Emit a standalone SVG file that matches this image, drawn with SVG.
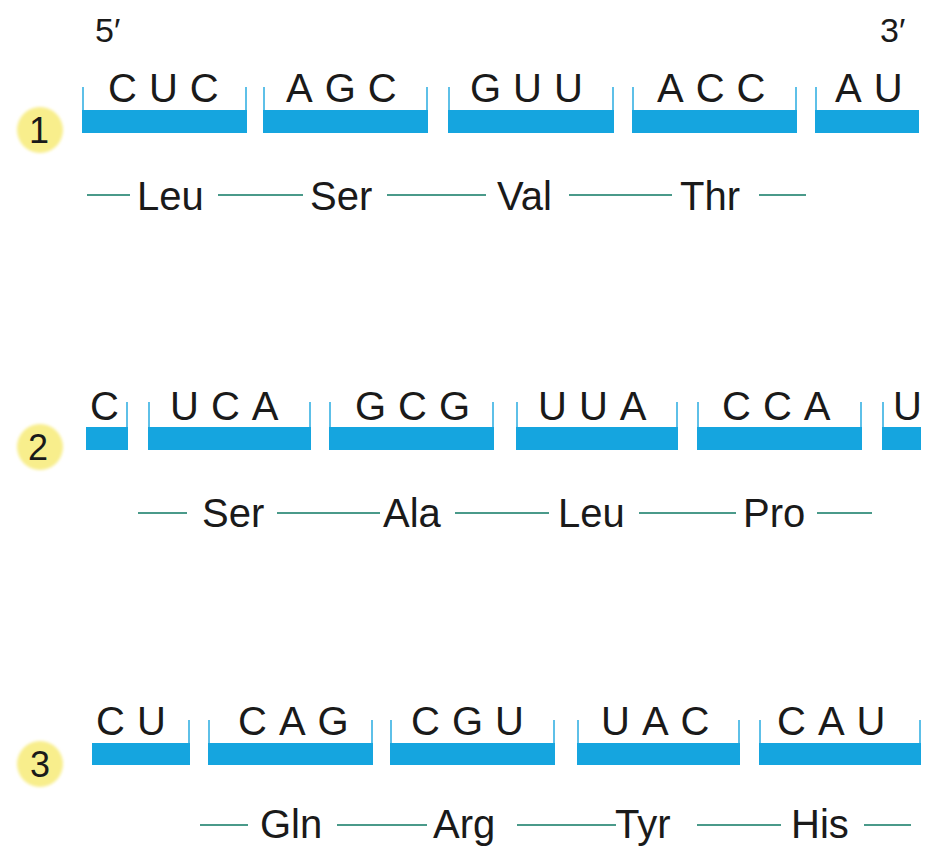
<svg xmlns="http://www.w3.org/2000/svg" width="928" height="848" viewBox="0 0 928 848">
<defs>
<style>
.bar{fill:#15A5DF}
.tick{fill:#5EC0E8}
.cod{font-family:"Liberation Sans",Arial,sans-serif;font-size:40px;letter-spacing:12px;fill:#1a1a1a}
.one{letter-spacing:0}
.aa{font-family:"Liberation Sans",Arial,sans-serif;font-size:40px;fill:#1a1a1a}
.end{font-family:"Liberation Sans",Arial,sans-serif;font-size:34px;fill:#1a1a1a}
.num{font-family:"Liberation Sans",Arial,sans-serif;font-size:36px;fill:#1a1a1a;text-anchor:middle}
.badge{fill:#F8EE8C}
.link{stroke:#4A9A8A;stroke-width:2;fill:none}
</style>
<filter id="soft" x="-30%" y="-30%" width="160%" height="160%"><feGaussianBlur stdDeviation="1.5"/></filter>
</defs>
<rect width="928" height="848" fill="#ffffff"/>

<g id="ends">
<text class="end" x="95" y="42">5′</text>
<text class="end" x="880" y="42">3′</text>
</g>

<!-- Row 1 -->
<g id="frame1">
<circle class="badge" cx="40" cy="130" r="23" filter="url(#soft)"/>
<text class="num" x="39" y="143">1</text>
</g>
<g id="r1c1"><rect class="bar" x="82" y="110" width="165" height="23"/><rect class="tick" x="82" y="87" width="2" height="23"/><rect class="tick" x="245" y="87" width="2" height="23"/><text class="cod" x="108" y="102">CUC</text></g>
<g id="r1c2"><rect class="bar" x="263" y="110" width="165" height="23"/><rect class="tick" x="263" y="87" width="2" height="23"/><rect class="tick" x="426" y="87" width="2" height="23"/><text class="cod" x="286" y="102">AGC</text></g>
<g id="r1c3"><rect class="bar" x="448" y="110" width="166" height="23"/><rect class="tick" x="448" y="87" width="2" height="23"/><rect class="tick" x="612" y="87" width="2" height="23"/><text class="cod" x="470" y="102">GUU</text></g>
<g id="r1c4"><rect class="bar" x="632" y="110" width="165" height="23"/><rect class="tick" x="632" y="87" width="2" height="23"/><rect class="tick" x="795" y="87" width="2" height="23"/><text class="cod" x="657" y="102">ACC</text></g>
<g id="r1c5"><rect class="bar" x="815" y="110" width="104" height="23"/><rect class="tick" x="815" y="87" width="2" height="23"/><text class="cod" x="835" y="102">AU</text></g>
<g id="r1a1"><text class="aa" x="137" y="210">Leu</text></g>
<g id="r1a2"><text class="aa" x="310" y="210">Ser</text></g>
<g id="r1a3"><text class="aa" x="497" y="210">Val</text></g>
<g id="r1a4"><text class="aa" x="680" y="210">Thr</text></g>

<!-- Row 2 -->
<g id="frame2">
<circle class="badge" cx="40" cy="447" r="23" filter="url(#soft)"/>
<text class="num" x="38" y="460">2</text>
</g>
<g id="r2c1"><rect class="bar" x="86" y="427" width="42" height="23"/><rect class="tick" x="126" y="402" width="2" height="25"/><text class="cod one" x="90" y="420">C</text></g>
<g id="r2c2"><rect class="bar" x="148" y="427" width="163" height="23"/><rect class="tick" x="148" y="402" width="2" height="25"/><rect class="tick" x="309" y="402" width="2" height="25"/><text class="cod" x="170" y="420">UCA</text></g>
<g id="r2c3"><rect class="bar" x="329" y="427" width="165" height="23"/><rect class="tick" x="329" y="402" width="2" height="25"/><rect class="tick" x="492" y="402" width="2" height="25"/><text class="cod" x="355" y="420">GCG</text></g>
<g id="r2c4"><rect class="bar" x="516" y="427" width="162" height="23"/><rect class="tick" x="516" y="402" width="2" height="25"/><rect class="tick" x="676" y="402" width="2" height="25"/><text class="cod" x="538" y="420">UUA</text></g>
<g id="r2c5"><rect class="bar" x="697" y="427" width="165" height="23"/><rect class="tick" x="697" y="402" width="2" height="25"/><rect class="tick" x="860" y="402" width="2" height="25"/><text class="cod" x="722" y="420">CCA</text></g>
<g id="r2c6"><rect class="bar" x="882" y="427" width="39" height="23"/><rect class="tick" x="882" y="402" width="2" height="25"/><text class="cod one" x="893" y="420">U</text></g>
<g id="r2a1"><text class="aa" x="202" y="527">Ser</text></g>
<g id="r2a2"><text class="aa" x="383" y="527">Ala</text></g>
<g id="r2a3"><text class="aa" x="558" y="527">Leu</text></g>
<g id="r2a4"><text class="aa" x="743" y="527">Pro</text></g>

<!-- Row 3 -->
<g id="frame3">
<circle class="badge" cx="40" cy="764" r="23" filter="url(#soft)"/>
<text class="num" x="40" y="777">3</text>
</g>
<g id="r3c1"><rect class="bar" x="92" y="743" width="98" height="22"/><rect class="tick" x="188" y="720" width="2" height="23"/><text class="cod" x="96" y="735">CU</text></g>
<g id="r3c2"><rect class="bar" x="208" y="743" width="165" height="22"/><rect class="tick" x="208" y="720" width="2" height="23"/><rect class="tick" x="371" y="720" width="2" height="23"/><text class="cod" x="238" y="735">CAG</text></g>
<g id="r3c3"><rect class="bar" x="390" y="743" width="165" height="22"/><rect class="tick" x="390" y="720" width="2" height="23"/><rect class="tick" x="553" y="720" width="2" height="23"/><text class="cod" x="411" y="735">CGU</text></g>
<g id="r3c4"><rect class="bar" x="577" y="743" width="163" height="22"/><rect class="tick" x="577" y="720" width="2" height="23"/><rect class="tick" x="738" y="720" width="2" height="23"/><text class="cod" x="601" y="735">UAC</text></g>
<g id="r3c5"><rect class="bar" x="759" y="743" width="162" height="22"/><rect class="tick" x="759" y="720" width="2" height="23"/><rect class="tick" x="919" y="720" width="2" height="23"/><text class="cod" x="777" y="735">CAU</text></g>
<g id="r3a1"><text class="aa" x="260" y="838">Gln</text></g>
<g id="r3a2"><text class="aa" x="433" y="838">Arg</text></g>
<g id="r3a3"><text class="aa" x="615" y="838">Tyr</text></g>
<g id="r3a4"><text class="aa" x="791" y="838">His</text></g>

<g id="connectors" class="link">
<line x1="87" y1="195" x2="130" y2="195"/>
<line x1="218" y1="195" x2="303" y2="195"/>
<line x1="387" y1="195" x2="486" y2="195"/>
<line x1="569" y1="195" x2="672" y2="195"/>
<line x1="759" y1="195" x2="806" y2="195"/>
<line x1="138" y1="513" x2="187" y2="513"/>
<line x1="277" y1="513" x2="380" y2="513"/>
<line x1="455" y1="513" x2="549" y2="513"/>
<line x1="639" y1="513" x2="736" y2="513"/>
<line x1="817" y1="513" x2="872" y2="513"/>
<line x1="200" y1="825" x2="248" y2="825"/>
<line x1="337" y1="825" x2="427" y2="825"/>
<line x1="517" y1="825" x2="616" y2="825"/>
<line x1="697" y1="825" x2="781" y2="825"/>
<line x1="864" y1="825" x2="911" y2="825"/>
</g>
</svg>
